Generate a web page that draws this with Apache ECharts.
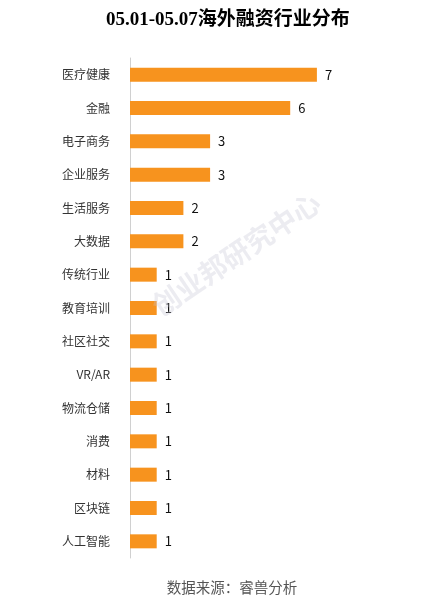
<!DOCTYPE html>
<html><head><meta charset="utf-8">
<script src="https://cdn.jsdelivr.net/npm/echarts@6/dist/echarts.min.js"></script>
<style>html,body{margin:0;padding:0;background:#fff}#c{width:431px;height:610px}</style>
</head><body><div id="c"></div>
<script>
const categories = ['医疗健康','金融','电子商务','企业服务','生活服务','大数据','传统行业','教育培训','社区社交','VR/AR','物流仓储','消费','材料','区块链','人工智能'];
const values = [7,6,3,3,2,2,1,1,1,1,1,1,1,1,1];
const titleText = '05.01-05.07海外融资行业分布';
const sourceText = '数据来源：睿兽分析';
const watermarkText = '创业邦研究中心';

const chart = echarts.init(document.getElementById('c'));
chart.setOption({
  animation: false,
  backgroundColor: '#fff',
  title: {
    text: titleText, left: 101, top: 6,
    textStyle: {fontFamily: '"Liberation Serif","Noto Sans CJK SC",serif', fontWeight: 'bold', fontSize: 19, color: '#000'}
  },
  grid: {left: 130, top: 58, width: 267, height: 500, containLabel: false},
  xAxis: {type: 'value', min: 0, max: 10, show: false},
  yAxis: {
    type: 'category', data: categories, inverse: true,
    axisLine: {show: true, lineStyle: {color: '#d0d0d0', width: 1}},
    axisTick: {show: false},
    axisLabel: {margin: 20, fontSize: 12, color: '#333', fontFamily: '"Noto Sans CJK SC",sans-serif'}
  },
  series: [{
    type: 'bar', data: values, barWidth: 14,
    itemStyle: {color: '#F7931E'},
    label: {show: true, position: 'right', distance: 8, fontSize: 13, color: '#111', fontFamily: '"Noto Sans CJK SC",sans-serif'}
  }],
  graphic: [
    {type: 'text', x: 232, y: 587, style: {text: sourceText, font: '14.5px "Noto Sans CJK SC",sans-serif', fill: '#555', textAlign: 'center', textVerticalAlign: 'middle'}},
    {type: 'text', x: 236, y: 254, rotation: 34 * Math.PI / 180, z: 100,
      style: {text: watermarkText, font: 'bold 28px "Noto Sans CJK SC",sans-serif', fill: 'rgba(195,195,210,0.32)', textAlign: 'center', textVerticalAlign: 'middle'}}
  ]
});
</script></body></html>
